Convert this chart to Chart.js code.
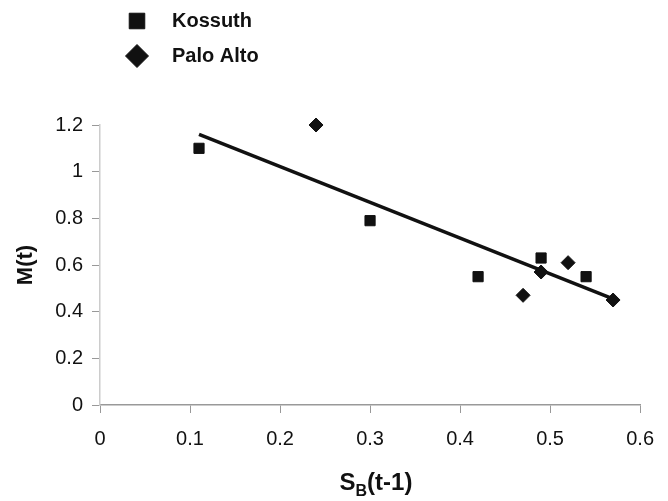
<!DOCTYPE html>
<html>
<head>
<meta charset="utf-8">
<script src="https://cdn.jsdelivr.net/npm/chart.js@4/dist/chart.umd.min.js"></script>
<style>
  html, body { margin: 0; padding: 0; background: #fff; }
  #wrap { width: 668px; height: 501px; }
</style>
</head>
<body>
<div id="wrap"><canvas id="chart" width="668" height="501"></canvas></div>
<script>
// values
const kossuthX = [0.11, 0.30, 0.42, 0.49, 0.54];
const kossuthY = [1.10, 0.79, 0.55, 0.63, 0.55];
const paloAltoX = [0.24, 0.47, 0.49, 0.52, 0.57];
const paloAltoY = [1.20, 0.47, 0.57, 0.61, 0.45];
// trend line end points
const trendX = [0.11, 0.57];
const trendY = [1.16, 0.455];
const seriesNames = ["Kossuth", "Palo Alto"];

const toPoints = (xs, ys) => xs.map((x, i) => ({ x: x, y: ys[i] }));

const FONT = "'Liberation Sans', Arial, Helvetica, sans-serif";

// legend drawn by hand so it sits top-left as a column
const legendPlugin = {
  id: "sideLegend",
  afterDraw(chart) {
    const ctx = chart.ctx;
    const rows = [
      { name: seriesNames[0], style: "rect", r: 11, y: 21 },
      { name: seriesNames[1], style: "rectRot", r: 11.5, y: 56 },
    ];
    ctx.save();
    rows.forEach((row) => {
      ctx.fillStyle = "#111";
      ctx.strokeStyle = "#111";
      ctx.lineWidth = 1;
      Chart.helpers.drawPoint(ctx, { pointStyle: row.style, radius: row.r, borderWidth: 1 }, 137, row.y);
      ctx.fillStyle = "#111";
      ctx.font = "bold 20px " + FONT;
      ctx.textBaseline = "middle";
      ctx.textAlign = "left";
      ctx.fillText(row.name, 172, row.y);
    });
    ctx.restore();
  },
};

// x axis title with a subscript B
const xTitlePlugin = {
  id: "xTitle",
  afterDraw(chart) {
    const ctx = chart.ctx;
    const big = "bold 24px " + FONT;
    const small = "bold 16px " + FONT;
    ctx.save();
    ctx.fillStyle = "#111";
    ctx.textBaseline = "alphabetic";
    ctx.textAlign = "left";
    ctx.font = big;
    const wS = ctx.measureText("S").width;
    const wRest = ctx.measureText("(t-1)").width;
    ctx.font = small;
    const wB = ctx.measureText("B").width;
    const total = wS + wB + wRest;
    let x = 376 - total / 2;
    const base = 490;
    ctx.font = big;
    ctx.fillText("S", x, base);
    x += wS;
    ctx.font = small;
    ctx.fillText("B", x, base + 6);
    x += wB;
    ctx.font = big;
    ctx.fillText("(t-1)", x, base);
    ctx.restore();
  },
};

const data = {
  datasets: [
    {
      label: seriesNames[0],
      data: toPoints(kossuthX, kossuthY),
      pointStyle: "rect",
      pointRadius: 7.2,
      backgroundColor: "#111",
      borderColor: "#111",
      borderWidth: 1,
      showLine: false,
    },
    {
      label: seriesNames[1],
      data: toPoints(paloAltoX, paloAltoY),
      pointStyle: "rectRot",
      pointRadius: 7,
      backgroundColor: "#111",
      borderColor: "#111",
      borderWidth: 1,
      showLine: false,
    },
    {
      type: "line",
      label: "trend",
      data: toPoints(trendX, trendY),
      borderColor: "#111",
      borderWidth: 3.5,
      pointRadius: 0,
      fill: false,
    },
  ],
};

const tickFont = { family: FONT, size: 20 };

const options = {
  responsive: false,
  animation: false,
  clip: false,
  layout: { padding: { left: 0, right: 27, top: 125, bottom: 0 } },
  plugins: {
    legend: { display: false },
    tooltip: { enabled: false },
  },
  scales: {
    x: {
      type: "linear",
      min: 0,
      max: 0.6,
      afterFit: (scale) => { scale.height = 96; },
      ticks: {
        stepSize: 0.1,
        color: "#111",
        font: tickFont,
        padding: 14,
        maxRotation: 0,
        callback: (v) => String(+v.toFixed(1)),
      },
      grid: { drawOnChartArea: false, tickLength: 8, color: "#999" },
      border: { color: "#999", width: 1.5 },
    },
    y: {
      min: 0,
      max: 1.2,
      afterFit: (scale) => { scale.width = 100; },
      ticks: {
        stepSize: 0.2,
        color: "#111",
        font: tickFont,
        padding: 9,
        callback: (v) => String(+v.toFixed(1)),
      },
      grid: { drawOnChartArea: false, tickLength: 8, color: "#999" },
      border: { color: "#ccc", width: 1.5 },
      title: {
        display: true,
        text: "M(t)",
        color: "#111",
        font: { family: FONT, size: 22, weight: "bold" },
        padding: { top: 13, bottom: 0 },
      },
    },
  },
};

const config = {
  type: "scatter",
  data: data,
  options: options,
  plugins: [legendPlugin, xTitlePlugin],
};

const chart = new Chart(document.getElementById("chart"), config);
</script>
</body>
</html>
